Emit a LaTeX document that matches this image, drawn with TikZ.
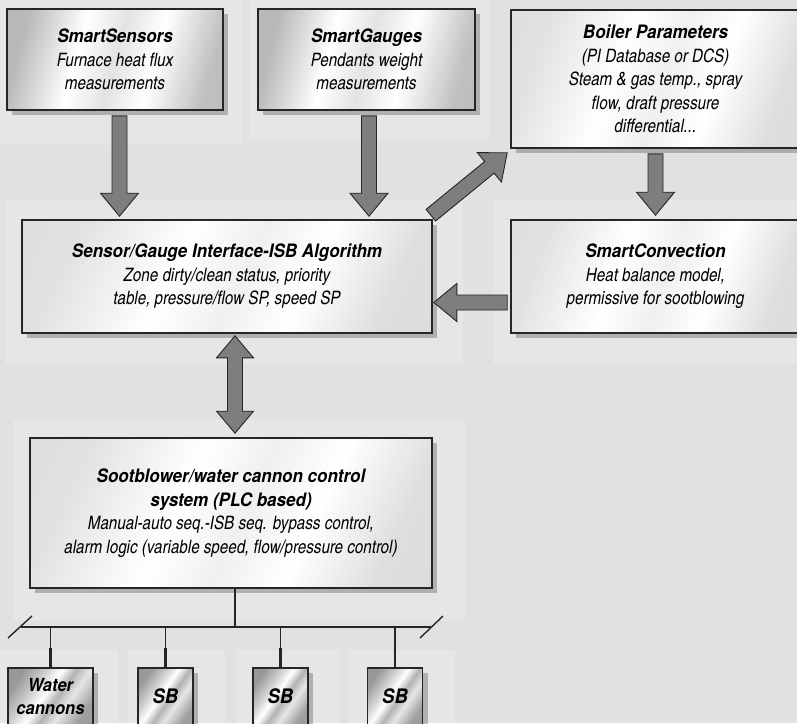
\documentclass[tikz,border=0pt]{standalone}
\usepackage{fontspec}
\setmainfont{texgyreheroscn}[Extension=.otf, UprightFont=*-regular, BoldFont=*-bold, ItalicFont=*-italic, BoldItalicFont=*-bolditalic]
\newfontfamily\headfont{texgyreheros}[Extension=.otf, UprightFont=*-bolditalic, FakeStretch=0.92]
\usepackage{tikz}
\usetikzlibrary{calc,shadows,positioning}
\definecolor{bgcol}{HTML}{E0E1E3}
\definecolor{edgecol}{HTML}{262626}
\definecolor{arrowcol}{HTML}{7E7E7E}
\pgfdeclarehorizontalshading{steel}{100bp}{color(0bp)=(gray!60); color(25bp)=(gray!55); color(40bp)=(white); color(50bp)=(gray!22); color(60bp)=(white); color(75bp)=(gray!50); color(100bp)=(gray!55)}
\pgfdeclarehorizontalshading{palesteel}{100bp}{color(0bp)=(gray!28); color(25bp)=(gray!24); color(42bp)=(white); color(52bp)=(gray!12); color(62bp)=(white); color(75bp)=(gray!26); color(100bp)=(gray!30)}
\pgfdeclarehorizontalshading{darksteel}{100bp}{color(0bp)=(gray!85); color(25bp)=(gray!80); color(38bp)=(gray!35); color(46bp)=(white); color(54bp)=(gray!60); color(62bp)=(white!80!gray); color(75bp)=(gray!75); color(100bp)=(gray!85)}
\newcommand{\boxtitle}[1]{{\headfont #1}}
\tikzset{
  backpanel/.style = {fill=white, opacity=0.18},
  infobox/.style   = {draw=edgecol, line width=1.6pt, align=center, inner sep=4pt,
                      drop shadow={shadow xshift=5pt, shadow yshift=-5pt, opacity=0.35, fill=black!70},
                      font=\itshape\fontsize{18.5}{23.5}\selectfont},
  unitbox/.style   = {infobox, shading=darksteel, shading angle=-35,
                      font=\headfont\fontsize{18}{23}\selectfont},
  arrowbody/.style = {fill=arrowcol, draw=edgecol, line width=0.9pt, line join=miter},
  busline/.style   = {draw=edgecol, line width=1.4pt},
}
\newcommand{\fatarrow}[2]{%
  \coordinate (fa-a) at #1;
  \coordinate (fa-b) at #2;
  \coordinate (fa-c) at ($(fa-b)!23pt!(fa-a)$);
  \draw[arrowbody] ($(fa-a)!7.5pt!90:(fa-b)$) -- ($(fa-c)!7.5pt!90:(fa-b)$)
    -- ($(fa-c)!19pt!90:(fa-b)$) -- (fa-b) -- ($(fa-c)!19pt!-90:(fa-b)$)
    -- ($(fa-c)!7.5pt!-90:(fa-b)$) -- ($(fa-a)!7.5pt!-90:(fa-b)$) -- cycle;}
\newcommand{\fatdarrow}[2]{%
  \coordinate (fa-a) at #1;
  \coordinate (fa-b) at #2;
  \coordinate (fa-c) at ($(fa-a)!22pt!(fa-b)$);
  \coordinate (fa-d) at ($(fa-b)!22pt!(fa-a)$);
  \draw[arrowbody] (fa-a) -- ($(fa-c)!18.5pt!90:(fa-b)$) -- ($(fa-c)!7.5pt!90:(fa-b)$)
    -- ($(fa-d)!7.5pt!90:(fa-b)$) -- ($(fa-d)!18.5pt!90:(fa-b)$) -- (fa-b)
    -- ($(fa-d)!18.5pt!-90:(fa-b)$) -- ($(fa-d)!7.5pt!-90:(fa-b)$)
    -- ($(fa-c)!7.5pt!-90:(fa-b)$) -- ($(fa-c)!18.5pt!-90:(fa-b)$) -- cycle;}

\begin{document}
\begin{tikzpicture}[x=1pt, y=-1pt]
  \fill[bgcol] (0,0) rectangle (797,723);
  \useasboundingbox (0,0) rectangle (797,723);
  \foreach \xa/\ya/\xb/\yb in {0/0/243/145, 250/0/490/140, 5/200/463/365, 493/200/797/365,
      13/420/465/621, 0/650/118/723, 128/650/225/723, 236/650/340/723, 348/650/455/723}
    \fill[backpanel] (\xa,\ya) rectangle (\xb,\yb);

  \node[infobox, shading=steel, shading angle=-15, minimum width=216pt, minimum height=101pt]
    (sensors) at (115,59.5) {\boxtitle{SmartSensors}\\Furnace heat flux\\measurements};
  \node[infobox, shading=steel, shading angle=-15, minimum width=217pt, minimum height=101pt]
    (gauges) at (366.5,59.5) {\boxtitle{SmartGauges}\\Pendants weight\\measurements};
  \node[infobox, shading=palesteel, shading angle=-20, minimum width=289pt, minimum height=138pt]
    (boiler) at (655.5,79) {\boxtitle{Boiler Parameters}\\(PI Database or DCS)\\Steam \& gas temp., spray\\flow, draft pressure\\differential...};
  \node[infobox, shading=palesteel, shading angle=-25, minimum width=410pt, minimum height=113pt]
    (iface) at (227,276.5) {\boxtitle{Sensor/Gauge Interface-ISB Algorithm}\\Zone dirty/clean status, priority\\table, pressure/flow SP, speed SP};
  \node[infobox, shading=palesteel, shading angle=-20, minimum width=289pt, minimum height=113pt]
    (convection) at (655.5,276.5) {\boxtitle{SmartConvection}\\Heat balance model,\\permissive for sootblowing};
  \node[infobox, shading=palesteel, shading angle=-25, minimum width=402pt, minimum height=150pt]
    (soot) at (231,513) {\boxtitle{Sootblower/water cannon control}\\\boxtitle{system (PLC based)}\\Manual-auto seq.-ISB seq. bypass control,\\alarm logic (variable speed, flow/pressure control)};

  \node[unitbox, minimum width=85pt, minimum height=57pt] (water) at (50.5,696.5) {Water\\cannons};
  \node[unitbox, minimum width=55pt, minimum height=57pt, font=\headfont\fontsize{20}{23}\selectfont] (sb1) at (165.5,696.5) {SB};
  \node[unitbox, minimum width=55pt, minimum height=57pt, font=\headfont\fontsize{20}{23}\selectfont] (sb2) at (280.5,696.5) {SB};
  \node[unitbox, minimum width=55pt, minimum height=57pt, font=\headfont\fontsize{20}{23}\selectfont] (sb3) at (395,696.5) {SB};

  \fatarrow{([xshift=4.5pt,yshift=-5pt]sensors.south)}{([xshift=4.5pt,yshift=3pt]sensors.south |- iface.north)}
  \fatarrow{([xshift=2.5pt,yshift=-5pt]gauges.south)}{([xshift=2.5pt,yshift=3pt]gauges.south |- iface.north)}
  \fatarrow{([shift={(-2pt,4pt)}]iface.north east)}{([shift={(-3pt,-4pt)}]boiler.south west)}
  \fatarrow{([yshift=-5pt]boiler.south)}{([yshift=4pt]convection.north)}
  \fatarrow{([shift={(-3pt,-26pt)}]convection.west)}{([shift={(1pt,-26pt)}]iface.east)}
  \fatdarrow{([shift={(4pt,-2pt)}]soot.north |- iface.south)}{([shift={(4pt,4pt)}]soot.north)}

  \coordinate (busl) at (21,627);
  \coordinate (busr) at (431,627);
  \draw[busline] ([xshift=4pt]soot.south) -- ([xshift=4pt]soot.south |- busl);
  \draw[busline] (busl) -- (busr);
  \draw[busline] ([shift={(-13pt,-11pt)}]busl) -- ([shift={(11pt,11pt)}]busl);
  \draw[busline] ([shift={(-11pt,-11pt)}]busr) -- ([shift={(12pt,11pt)}]busr);
  \foreach \u in {water,sb1,sb2,sb3} {
    \draw[busline] (\u.north |- busl) -- (\u.north);
    \draw[draw=edgecol, line width=2.8pt] ([yshift=19pt]\u.north) -- (\u.north);
  }
\end{tikzpicture}
\end{document}
